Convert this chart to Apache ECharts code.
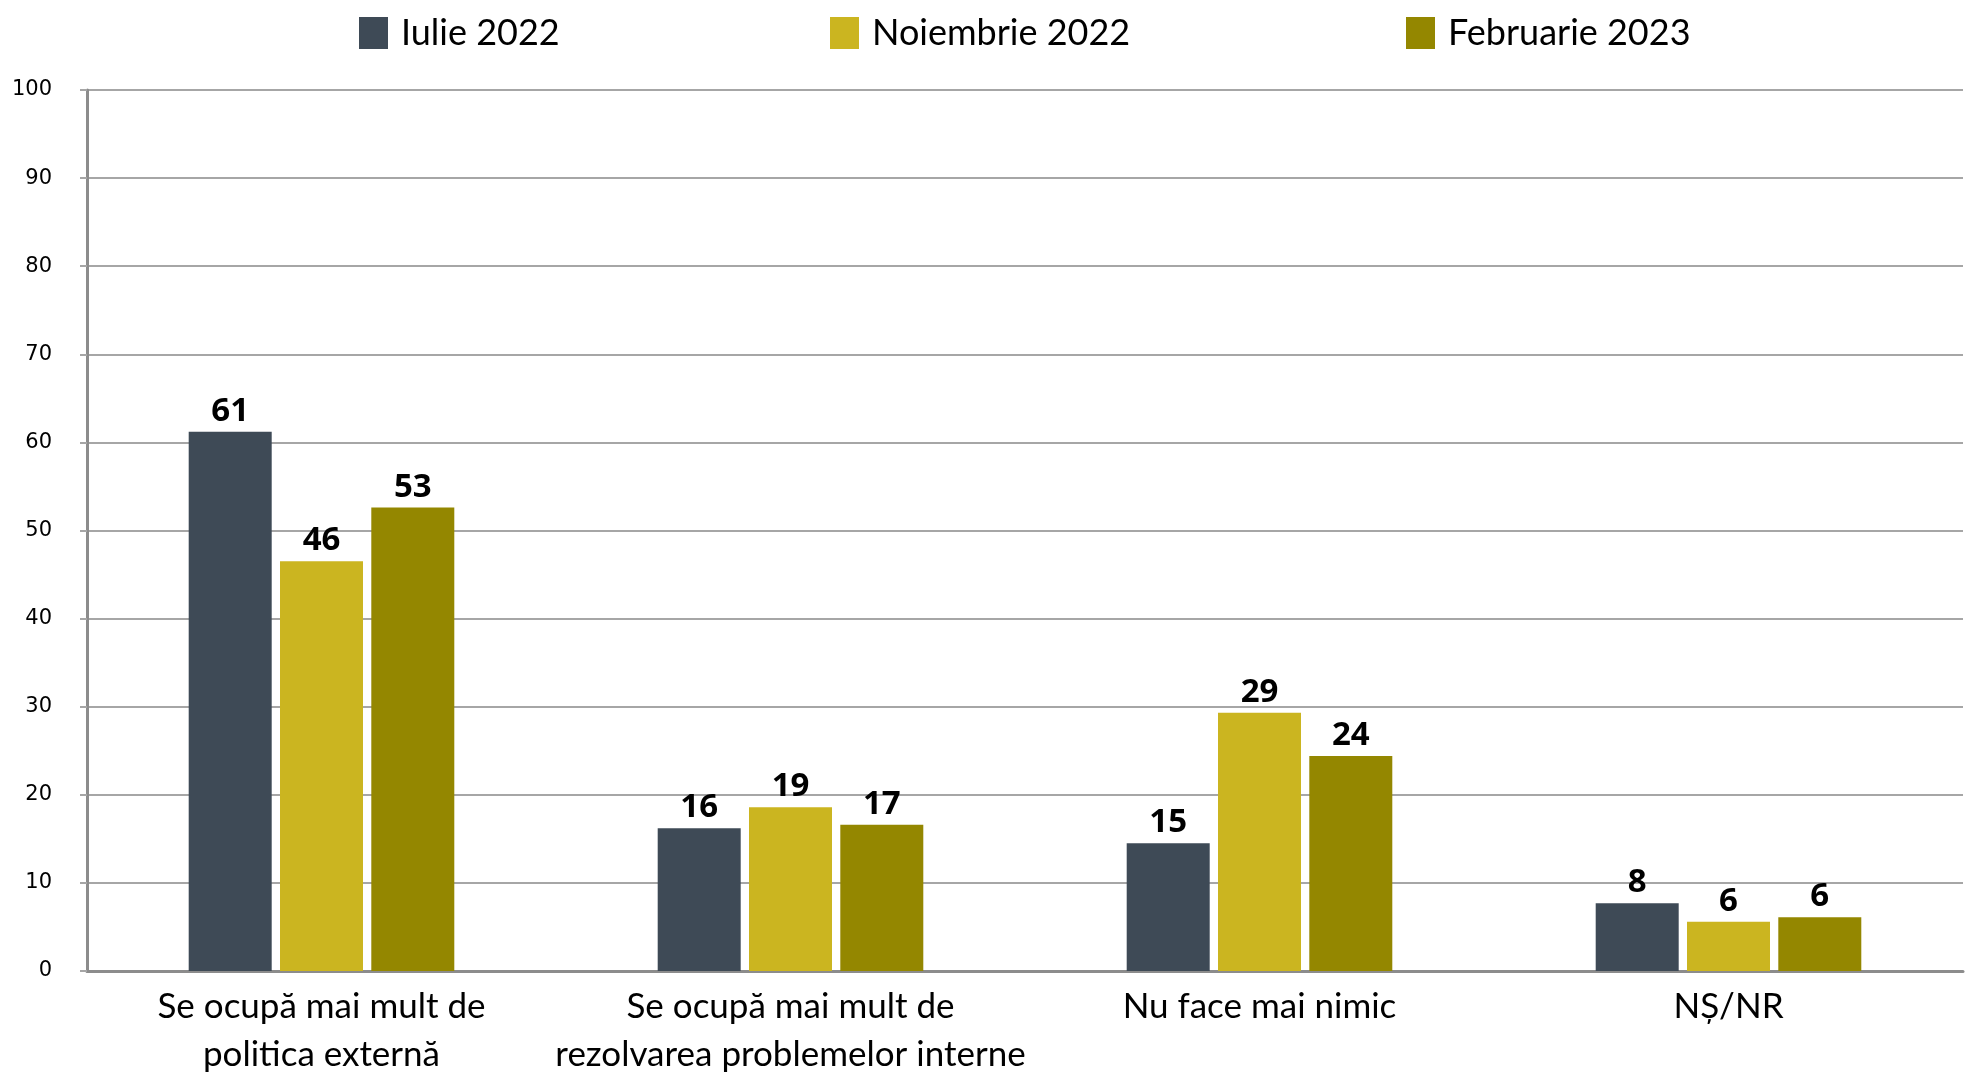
<!DOCTYPE html>
<html>
<head>
<meta charset="utf-8">
<script src="https://cdn.jsdelivr.net/npm/echarts@6/dist/echarts.min.js"></script>
<style>
html,body{margin:0;padding:0;background:#fff;}
#c{width:1976px;height:1079px;}
</style>
</head>
<body>
<div id="c"></div>
<script>
// Data
const categories = [
  "Se ocupă mai mult de\npolitica externă",
  "Se ocupă mai mult de\nrezolvarea problemelor interne",
  "Nu face mai nimic",
  "NȘ/NR"
];
const seriesNames = ["Iulie 2022", "Noiembrie 2022", "Februarie 2023"];
const iulie2022 = [61.2, 16.2, 14.5, 7.7];
const noiembrie2022 = [46.5, 18.6, 29.3, 5.6];
const februarie2023 = [52.6, 16.6, 24.4, 6.1];
const iulie2022Labels = [61, 16, 15, 8];
const noiembrie2022Labels = [46, 19, 29, 6];
const februarie2023Labels = [53, 17, 24, 6];
const yTicks = [0, 10, 20, 30, 40, 50, 60, 70, 80, 90, 100];

const colors = ["#3E4A56", "#CBB520", "#948700"];
const textFont = "Lato";

function makeSeries(name, values, labels, color) {
  return {
    name: name,
    type: "bar",
    data: values,
    barWidth: 83,
    barGap: "10%",
    itemStyle: { color: color },
    label: {
      show: true,
      position: "top",
      distance: 4,
      formatter: p => String(labels[p.dataIndex]),
      fontFamily: "Open Sans",
      fontWeight: "bold",
      fontSize: 33,
      color: "#000"
    }
  };
}

const legendBase = {
  top: 10,
  itemWidth: 29,
  itemHeight: 32,
  itemGap: 20,
  icon: "rect",
  textStyle: { fontFamily: textFont, fontSize: 36, color: "#000", padding: [0, 0, 0, 8] }
};

const chart = echarts.init(document.getElementById("c"), null, { renderer: "canvas" });
chart.setOption({
  animation: false,
  backgroundColor: "#fff",
  legend: [
    Object.assign({}, legendBase, { left: 354, data: [seriesNames[0]] }),
    Object.assign({}, legendBase, { left: 825, data: [seriesNames[1]] }),
    Object.assign({}, legendBase, { left: 1401, data: [seriesNames[2]] })
  ],
  grid: { left: 87, right: 13, top: 90, bottom: 98, containLabel: false },
  xAxis: {
    type: "category",
    data: categories,
    axisLine: { show: true, lineStyle: { color: "#8C8C8C", width: 3 } },
    axisTick: { show: false },
    axisLabel: {
      fontFamily: textFont,
      fontSize: 35,
      color: "#000",
      lineHeight: 48,
      margin: 12,
      interval: 0
    }
  },
  yAxis: {
    type: "value",
    min: yTicks[0],
    max: yTicks[yTicks.length - 1],
    interval: 10,
    axisLine: { show: true, lineStyle: { color: "#8C8C8C", width: 3 } },
    axisTick: { show: true, length: 7, lineStyle: { color: "#A6A6A6", width: 2 } },
    axisLabel: {
      fontFamily: "DejaVu Sans",
      fontSize: 21,
      color: "#000",
      margin: 35
    },
    splitLine: { show: true, lineStyle: { color: "#A6A6A6", width: 2 } }
  },
  series: [
    makeSeries(seriesNames[0], iulie2022, iulie2022Labels, colors[0]),
    makeSeries(seriesNames[1], noiembrie2022, noiembrie2022Labels, colors[1]),
    makeSeries(seriesNames[2], februarie2023, februarie2023Labels, colors[2])
  ]
});
</script>
</body>
</html>
